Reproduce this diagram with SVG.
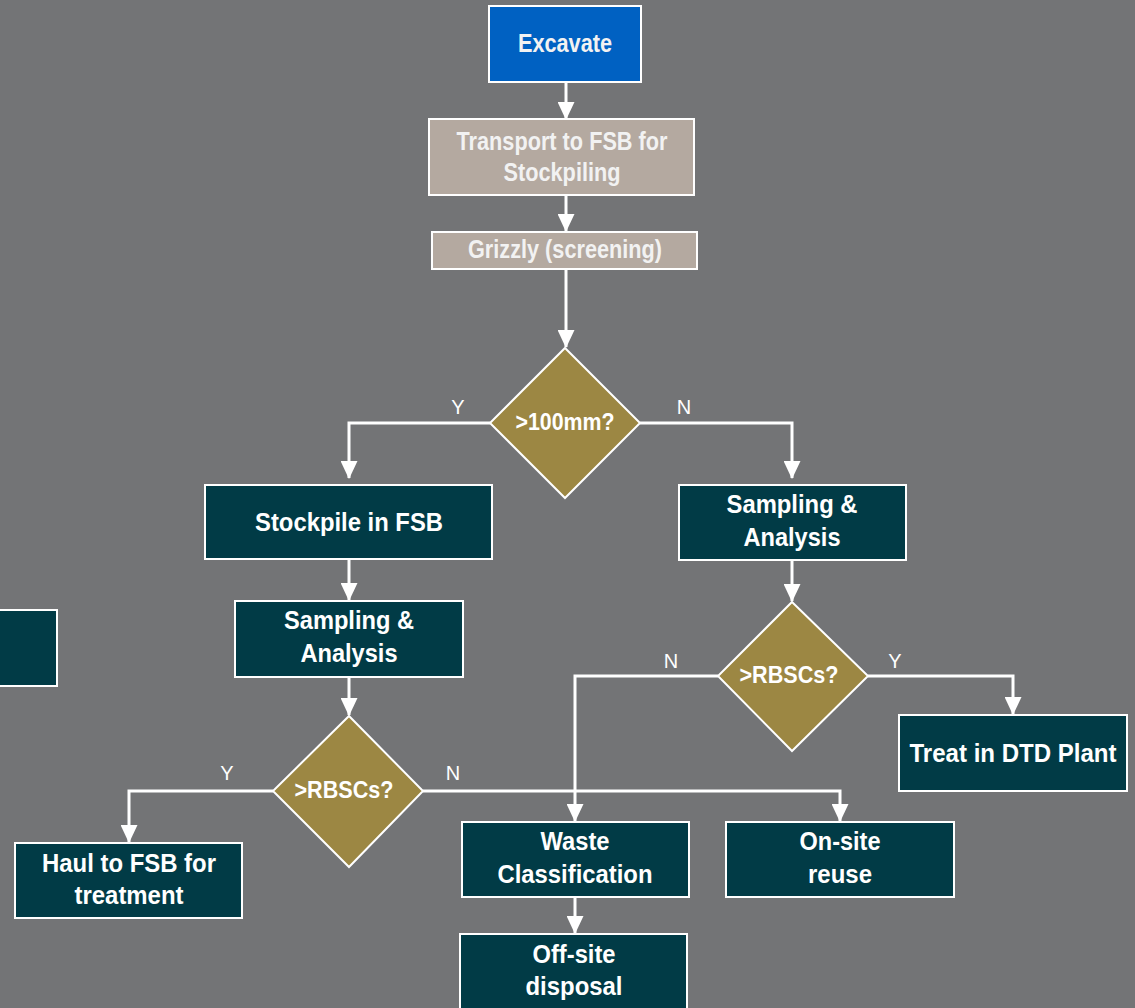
<svg xmlns="http://www.w3.org/2000/svg" width="1135" height="1008" viewBox="0 0 1135 1008">
<style>
.bg{fill:#737476}
.box{stroke:#ffffff;stroke-width:2}
.blue{fill:#0061c2}
.tan{fill:#b4a9a0}
.teal{fill:#013b46}
.dia{fill:#9c8743;stroke:#ffffff;stroke-width:2}
.t{font-family:"Liberation Sans",Arial,sans-serif;font-weight:bold;font-size:26px;fill:#ffffff;text-anchor:middle}
.tl{fill:#f2f2f2}
.d{font-size:24px}
.lbl{font-family:"Liberation Sans",Arial,sans-serif;font-size:20px;fill:#ffffff;text-anchor:middle}
.c{fill:none;stroke:#ffffff;stroke-width:3}
</style>
<defs>
<marker id="ah" viewBox="0 0 18 17" refX="17" refY="8.5" markerWidth="18" markerHeight="17" markerUnits="userSpaceOnUse" orient="auto">
<path d="M0,0 L18,8.5 L0,17 Z" fill="#ffffff"/>
</marker>
</defs>
<rect class="bg" x="0" y="0" width="1135" height="1008"/>

<g id="connectors">
<path class="c" d="M566,82 V119" marker-end="url(#ah)"/>
<path class="c" d="M566,195 V231" marker-end="url(#ah)"/>
<path class="c" d="M566,269 V347" marker-end="url(#ah)"/>
<path class="c" d="M490,423 H349 V478" marker-end="url(#ah)"/>
<path class="c" d="M640,423 H792 V478" marker-end="url(#ah)"/>
<path class="c" d="M349,559 V600" marker-end="url(#ah)"/>
<path class="c" d="M349,677 V715" marker-end="url(#ah)"/>
<path class="c" d="M273,791 H129 V842" marker-end="url(#ah)"/>
<path class="c" d="M423,791 H840 V821" marker-end="url(#ah)"/>
<path class="c" d="M792,560 V601" marker-end="url(#ah)"/>
<path class="c" d="M718,676 H575 V821" marker-end="url(#ah)"/>
<path class="c" d="M868,676 H1013 V714" marker-end="url(#ah)"/>
<path class="c" d="M575,897 V933" marker-end="url(#ah)"/>
<text class="lbl" x="458" y="414">Y</text>
<text class="lbl" x="684" y="414">N</text>
<text class="lbl" x="227" y="780">Y</text>
<text class="lbl" x="453" y="780">N</text>
<text class="lbl" x="671" y="668">N</text>
<text class="lbl" x="895" y="668">Y</text>
</g>

<g id="excavate">
<rect class="box blue" x="489" y="6" width="152" height="76"/>
<text class="t tl" x="565" y="52" textLength="94" lengthAdjust="spacingAndGlyphs">Excavate</text>
</g>
<g id="transport">
<rect class="box tan" x="429" y="119" width="265" height="76"/>
<text class="t tl" x="562" y="150" textLength="211" lengthAdjust="spacingAndGlyphs">Transport to FSB for</text>
<text class="t tl" x="562" y="181" textLength="117" lengthAdjust="spacingAndGlyphs">Stockpiling</text>
</g>
<g id="grizzly">
<rect class="box tan" x="432" y="232" width="265" height="37"/>
<text class="t tl" x="565" y="258" textLength="194" lengthAdjust="spacingAndGlyphs">Grizzly (screening)</text>
</g>
<g id="d100">
<polygon class="dia" points="565,348 640,423 565,498 490,423"/>
<text class="t d" x="565" y="430" textLength="99" lengthAdjust="spacingAndGlyphs">&gt;100mm?</text>
</g>
<g id="stockpile">
<rect class="box teal" x="205" y="485" width="287" height="74"/>
<text class="t" x="349" y="531" textLength="188" lengthAdjust="spacingAndGlyphs">Stockpile in FSB</text>
</g>
<g id="samplingR">
<rect class="box teal" x="679" y="485" width="227" height="75"/>
<text class="t" x="792" y="513" textLength="131" lengthAdjust="spacingAndGlyphs">Sampling &amp;</text>
<text class="t" x="792" y="546" textLength="97" lengthAdjust="spacingAndGlyphs">Analysis</text>
</g>
<g id="samplingL">
<rect class="box teal" x="235" y="601" width="228" height="76"/>
<text class="t" x="349" y="629" textLength="130" lengthAdjust="spacingAndGlyphs">Sampling &amp;</text>
<text class="t" x="349" y="662" textLength="97" lengthAdjust="spacingAndGlyphs">Analysis</text>
</g>
<g id="partial">
<rect class="box teal" x="-5" y="610" width="62" height="76"/>
</g>
<g id="rbscL">
<polygon class="dia" points="349,716 423,791 349,867 273,791"/>
<text class="t d" x="344" y="798" textLength="99" lengthAdjust="spacingAndGlyphs">&gt;RBSCs?</text>
</g>
<g id="rbscR">
<polygon class="dia" points="792,602 868,676 792,751 718,676"/>
<text class="t d" x="789" y="683" textLength="99" lengthAdjust="spacingAndGlyphs">&gt;RBSCs?</text>
</g>
<g id="haul">
<rect class="box teal" x="15" y="843" width="227" height="75"/>
<text class="t" x="129" y="872" textLength="174" lengthAdjust="spacingAndGlyphs">Haul to FSB for</text>
<text class="t" x="129" y="904" textLength="109" lengthAdjust="spacingAndGlyphs">treatment</text>
</g>
<g id="dtd">
<rect class="box teal" x="899" y="715" width="228" height="76"/>
<text class="t" x="1013" y="762" textLength="207" lengthAdjust="spacingAndGlyphs">Treat in DTD Plant</text>
</g>
<g id="waste">
<rect class="box teal" x="462" y="822" width="227" height="75"/>
<text class="t" x="575" y="850" textLength="69" lengthAdjust="spacingAndGlyphs">Waste</text>
<text class="t" x="575" y="883" textLength="155" lengthAdjust="spacingAndGlyphs">Classification</text>
</g>
<g id="onsite">
<rect class="box teal" x="726" y="822" width="228" height="75"/>
<text class="t" x="840" y="850" textLength="81" lengthAdjust="spacingAndGlyphs">On-site</text>
<text class="t" x="840" y="883" textLength="64" lengthAdjust="spacingAndGlyphs">reuse</text>
</g>
<g id="offsite">
<rect class="box teal" x="460" y="934" width="227" height="80"/>
<text class="t" x="574" y="963" textLength="83" lengthAdjust="spacingAndGlyphs">Off-site</text>
<text class="t" x="574" y="995" textLength="97" lengthAdjust="spacingAndGlyphs">disposal</text>
</g>
</svg>
